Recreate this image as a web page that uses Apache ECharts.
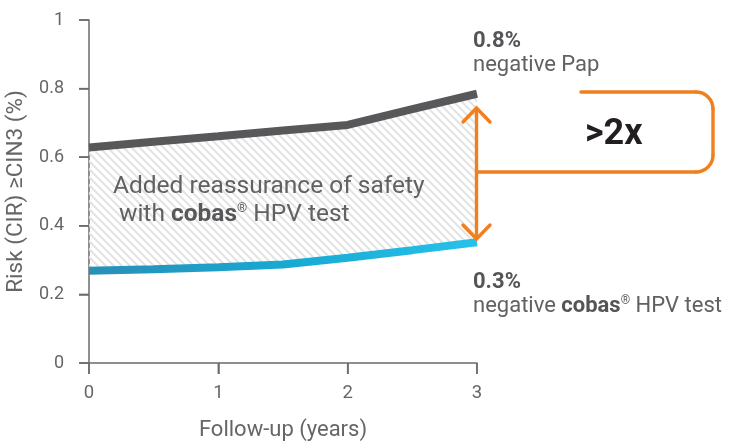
<!DOCTYPE html>
<html><head><meta charset="utf-8">
<script src="https://cdn.jsdelivr.net/npm/echarts@6/dist/echarts.min.js"></script>
<style>html,body{margin:0;padding:0;background:#fff}#c{width:741px;height:447px}</style>
</head><body><div id="c"></div>
<script>
// ---- data ----
var years = ['0', '0.5', '1', '1.5', '2', '2.5', '3'];
var papRisk = [0.628, 0.645, 0.661, 0.678, 0.694, 0.74, 0.785];
var cobasRisk = [0.269, 0.273, 0.279, 0.287, 0.307, 0.329, 0.352];
var xTickLabels = ['0', '1', '2', '3'];
var yTicks = [0, 0.2, 0.4, 0.6, 0.8, 1];
var xTitle = 'Follow-up (years)';
var yTitle = 'Risk (CIR) \u2265CIN3 (%)';

var FONT = 'Roboto, "Liberation Sans", sans-serif';
var chart = echarts.init(document.getElementById('c'), null, {renderer: 'canvas'});

// hatch pattern
var S = 8;
var pc = document.createElement('canvas');
pc.width = S; pc.height = S;
var g = pc.getContext('2d');
g.strokeStyle = '#e3e3e3'; g.lineWidth = 2;
g.beginPath();
g.moveTo(-1, -1); g.lineTo(S + 1, S + 1);
g.moveTo(-1, S - 1); g.lineTo(1, S + 1);
g.moveTo(S - 1, -1); g.lineTo(S + 1, 1);
g.stroke();

var gap = papRisk.map(function (v, i) { return v - cobasRisk[i]; });
function isTick(i, v) { return xTickLabels.indexOf(String(v)) >= 0; }

var axisCol = '#6b6b6e';
var OR = '#f07f1e';
var orStyle = {stroke: OR, lineWidth: 3.4, lineCap: 'round', fill: null};
var option = {
  animation: false,
  backgroundColor: '#fff',
  grid: {left: 89, right: 264, top: 20, bottom: 84, containLabel: false, outerBoundsMode: 'none'},
  xAxis: {
    type: 'category', data: years, boundaryGap: false,
    name: xTitle, nameLocation: 'middle', nameGap: 56,
    nameTextStyle: {fontFamily: FONT, fontSize: 22, color: '#666'},
    axisLine: {show: true, lineStyle: {color: axisCol, width: 1.5}},
    axisTick: {show: true, inside: false, length: 11, interval: isTick, lineStyle: {color: axisCol, width: 1.5}},
    axisLabel: {fontFamily: FONT, fontSize: 18.5, color: '#666', margin: 21, interval: isTick},
    splitLine: {show: false}
  },
  yAxis: {
    type: 'value', min: yTicks[0], max: yTicks[yTicks.length - 1], interval: 0.2,
    name: yTitle, nameLocation: 'middle', nameGap: 59, nameRotate: 90,
    nameTextStyle: {fontFamily: FONT, fontSize: 22.5, color: '#666'},
    axisLine: {show: true, lineStyle: {color: axisCol, width: 1.5}},
    axisTick: {show: true, inside: false, length: 10, lineStyle: {color: axisCol, width: 1.5}},
    axisLabel: {fontFamily: FONT, fontSize: 18, color: '#666', margin: 25,
      formatter: function (v) { return String(Math.round(v * 10) / 10); }},
    splitLine: {show: false}
  },
  series: [
    {type: 'line', stack: 'g', data: cobasRisk, showSymbol: false,
     lineStyle: {opacity: 0}, z: 1, silent: true},
    {type: 'line', stack: 'g', data: gap, showSymbol: false,
     lineStyle: {opacity: 0}, areaStyle: {color: {image: pc, repeat: 'repeat'}, opacity: 1}, z: 1, silent: true},
    {type: 'line', name: 'negative Pap', data: papRisk, showSymbol: false,
     lineStyle: {color: '#58585b', width: 8, cap: 'butt'}, z: 3},
    {type: 'line', name: 'negative cobas HPV test', data: cobasRisk, showSymbol: false,
     lineStyle: {width: 8, cap: 'butt', color: new echarts.graphic.LinearGradient(0, 0, 1, 0, [
       {offset: 0, color: '#2a8fb6'}, {offset: 0.5, color: '#17a9d2'}, {offset: 1, color: '#27c2ea'}])}, z: 3}
  ],
  graphic: [
    {type: 'text', x: 113, y: 187, z: 10, style: {
      text: 'Added reassurance of safety', font: '24.5px ' + FONT, fill: '#616164', verticalAlign: 'middle'}},
    {type: 'text', x: 119, y: 215, z: 10, style: {
      text: '{n|with }{b|cobas}{s|\u00ae}{n| HPV test}', verticalAlign: 'middle',
      rich: {
        n: {fontFamily: FONT, fontSize: 24.5, fill: '#616164'},
        b: {fontFamily: FONT, fontSize: 24.5, fontWeight: 'bold', fill: '#58585b'},
        s: {fontFamily: FONT, fontSize: 13, fill: '#616164', verticalAlign: 'top', padding: [0, 0, 10, 0]}
      }}},
    {type: 'text', x: 473, y: 41, style: {text: '0.8%', font: 'bold 22px ' + FONT, fill: '#555558', verticalAlign: 'middle'}},
    {type: 'text', x: 473, y: 65, style: {text: 'negative Pap', font: '22px ' + FONT, fill: '#616164', verticalAlign: 'middle'}},
    {type: 'text', x: 473, y: 282, style: {text: '0.3%', font: 'bold 22px ' + FONT, fill: '#555558', verticalAlign: 'middle'}},
    {type: 'text', x: 473, y: 306, style: {
      text: '{n|negative }{b|cobas}{s|\u00ae}{n| HPV test}', verticalAlign: 'middle',
      rich: {
        n: {fontFamily: FONT, fontSize: 22, fill: '#616164'},
        b: {fontFamily: FONT, fontSize: 22, fontWeight: 'bold', fill: '#555558'},
        s: {fontFamily: FONT, fontSize: 12, fill: '#616164', verticalAlign: 'top', padding: [0, 0, 9, 0]}
      }}},
    {type: 'text', x: 585, y: 135, style: {text: '>2x', font: 'bold 36px ' + FONT, fill: '#231f20', verticalAlign: 'middle'}},
    // orange bracket
    {type: 'line', z: 5, shape: {x1: 476.5, y1: 172, x2: 696, y2: 172}, style: orStyle},
    {type: 'arc', z: 5, shape: {cx: 696, cy: 155, r: 17, startAngle: 0, endAngle: Math.PI / 2, clockwise: true}, style: orStyle},
    {type: 'line', z: 5, shape: {x1: 713, y1: 155, x2: 713, y2: 109}, style: orStyle},
    {type: 'arc', z: 5, shape: {cx: 696, cy: 109, r: 17, startAngle: -Math.PI / 2, endAngle: 0, clockwise: true}, style: orStyle},
    {type: 'line', z: 5, shape: {x1: 696, y1: 92, x2: 581, y2: 92}, style: orStyle},
    // double arrow
    {type: 'line', z: 5, shape: {x1: 476.5, y1: 109, x2: 476.5, y2: 238}, style: orStyle},
    {type: 'polyline', z: 5, shape: {points: [[463, 122], [476.5, 108], [490, 122]]}, style: orStyle},
    {type: 'polyline', z: 5, shape: {points: [[463, 225], [476.5, 239], [490, 225]]}, style: orStyle}
  ]
};
chart.setOption(option);

// axis tick marks derived from the axis scales (drawn explicitly so they always show)
var tickStyle = {stroke: axisCol, lineWidth: 1.5};
var extra = [];
var y0 = chart.convertToPixel({yAxisIndex: 0}, yTicks[0]);
var x0 = chart.convertToPixel({xAxisIndex: 0}, xTickLabels[0]);
yTicks.forEach(function (v) {
  var py = chart.convertToPixel({yAxisIndex: 0}, v);
  extra.push({type: 'line', z: 4, shape: {x1: x0 - 10, y1: py, x2: x0, y2: py}, style: tickStyle});
});
xTickLabels.forEach(function (v) {
  var px = chart.convertToPixel({xAxisIndex: 0}, v);
  extra.push({type: 'line', z: 4, shape: {x1: px, y1: y0, x2: px, y2: y0 + 11}, style: tickStyle});
});
chart.setOption({graphic: option.graphic.concat(extra)});
</script>
</body></html>
